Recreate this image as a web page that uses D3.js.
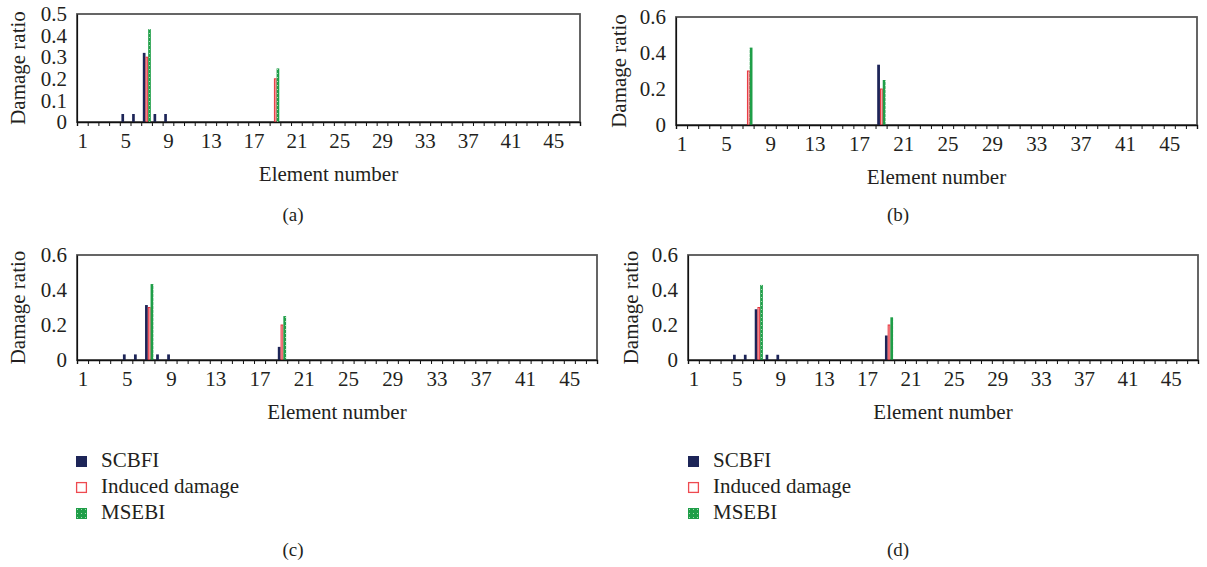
<!DOCTYPE html>
<html>
<head>
<meta charset="utf-8">
<script src="https://cdn.jsdelivr.net/npm/d3@7"></script>
<style>
  html, body { margin: 0; padding: 0; background: #ffffff; }
  svg { display: block; }
  text { font-family: "Liberation Serif", "DejaVu Serif", serif; fill: #231f20; }
</style>
</head>
<body>
<svg id="chart" width="1207" height="567"></svg>
<script>
// ---------------- DATA ----------------
const elements = [1,2,3,4,5,6,7,8,9,10,11,12,13,14,15,16,17,18,19,20,21,22,23,24,25,26,27,28,29,30,31,32,33,34,35,36,37,38,39,40,41,42,43,44,45,46,47];
const xTickLabels = [1,5,9,13,17,21,25,29,33,37,41,45];
const seriesNames = ["SCBFI", "Induced damage", "MSEBI"];
const yTicksA = [0, 0.1, 0.2, 0.3, 0.4, 0.5];
const yTicksBCD = [0, 0.2, 0.4, 0.6];
const panelLabels = ["(a)", "(b)", "(c)", "(d)"];
const xTitle = "Element number";
const yTitle = "Damage ratio";

// panel (a)
const scbfiA = [0,0,0,0,0.037,0.037,0.32,0.037,0.037,0,
                0,0,0,0,0,0,0,0,0,0,
                0,0,0,0,0,0,0,0,0,0,
                0,0,0,0,0,0,0,0,0,0,
                0,0,0,0,0,0,0];
const inducedA = [0,0,0,0,0,0,0.30,0,0,0,
                  0,0,0,0,0,0,0,0,0.20,0,
                  0,0,0,0,0,0,0,0,0,0,
                  0,0,0,0,0,0,0,0,0,0,
                  0,0,0,0,0,0,0];
const msebiA = [0,0,0,0,0,0,0.43,0,0,0,
                0,0,0,0,0,0,0,0,0.248,0,
                0,0,0,0,0,0,0,0,0,0,
                0,0,0,0,0,0,0,0,0,0,
                0,0,0,0,0,0,0];
// panel (b)
const scbfiB = [0,0,0,0,0,0,0,0,0,0,
                0,0,0,0,0,0,0,0,0.335,0,
                0,0,0,0,0,0,0,0,0,0,
                0,0,0,0,0,0,0,0,0,0,
                0,0,0,0,0,0,0];
const inducedB = [0,0,0,0,0,0,0.30,0,0,0,
                  0,0,0,0,0,0,0,0,0.20,0,
                  0,0,0,0,0,0,0,0,0,0,
                  0,0,0,0,0,0,0,0,0,0,
                  0,0,0,0,0,0,0];
const msebiB = [0,0,0,0,0,0,0.43,0,0,0,
                0,0,0,0,0,0,0,0,0.25,0,
                0,0,0,0,0,0,0,0,0,0,
                0,0,0,0,0,0,0,0,0,0,
                0,0,0,0,0,0,0];
// panel (c)
const scbfiC = [0,0,0,0,0.032,0.032,0.314,0.032,0.032,0,
                0,0,0,0,0,0,0,0,0.075,0,
                0,0,0,0,0,0,0,0,0,0,
                0,0,0,0,0,0,0,0,0,0,
                0,0,0,0,0,0,0];
const inducedC = [0,0,0,0,0,0,0.30,0,0,0,
                  0,0,0,0,0,0,0,0,0.20,0,
                  0,0,0,0,0,0,0,0,0,0,
                  0,0,0,0,0,0,0,0,0,0,
                  0,0,0,0,0,0,0];
const msebiC = [0,0,0,0,0,0,0.434,0,0,0,
                0,0,0,0,0,0,0,0,0.251,0,
                0,0,0,0,0,0,0,0,0,0,
                0,0,0,0,0,0,0,0,0,0,
                0,0,0,0,0,0,0];
// panel (d)
const scbfiD = [0,0,0,0,0.03,0.03,0.29,0.03,0.03,0,
                0,0,0,0,0,0,0,0,0.14,0,
                0,0,0,0,0,0,0,0,0,0,
                0,0,0,0,0,0,0,0,0,0,
                0,0,0,0,0,0,0];
const inducedD = [0,0,0,0,0,0,0.30,0,0,0,
                  0,0,0,0,0,0,0,0,0.20,0,
                  0,0,0,0,0,0,0,0,0,0,
                  0,0,0,0,0,0,0,0,0,0,
                  0,0,0,0,0,0,0];
const msebiD = [0,0,0,0,0,0,0.429,0,0,0,
                0,0,0,0,0,0,0,0,0.244,0,
                0,0,0,0,0,0,0,0,0,0,
                0,0,0,0,0,0,0,0,0,0,
                0,0,0,0,0,0,0];

// ---------------- LAYOUT / STYLE ----------------
const svg = d3.select("#chart");
const colors = { navy: "#1d2558", red: "#e8323c", green: "#1f9e48" };
const FONT = '"Liberation Serif", "DejaVu Serif", serif';

const defs = svg.append("defs");
const pat = defs.append("pattern").attr("id", "dots").attr("patternUnits", "userSpaceOnUse")
  .attr("width", 4).attr("height", 4);
pat.append("rect").attr("width", 4).attr("height", 4).attr("fill", colors.green);
pat.append("rect").attr("x", 1).attr("y", 1).attr("width", 1).attr("height", 1).attr("fill", "#a8dcb6");

const panels = [
  { label: panelLabels[0], left: 77, right: 580, top: 14, bottom: 122, ymax: 0.5, yTicks: yTicksA,
    series: [scbfiA, inducedA, msebiA], ytX: 18, labelX: 293, labelY: 221, legend: null },
  { label: panelLabels[1], left: 676, right: 1197, top: 17, bottom: 125, ymax: 0.6, yTicks: yTicksBCD,
    series: [scbfiB, inducedB, msebiB], ytX: 619, labelX: 898, labelY: 221, legend: null },
  { label: panelLabels[2], left: 77, right: 597, top: 255, bottom: 360, ymax: 0.6, yTicks: yTicksBCD,
    series: [scbfiC, inducedC, msebiC], ytX: 18, labelX: 293, labelY: 556, legend: { x: 76, y: 456 } },
  { label: panelLabels[3], left: 688, right: 1198, top: 255, bottom: 360, ymax: 0.6, yTicks: yTicksBCD,
    series: [scbfiD, inducedD, msebiD], ytX: 631, labelX: 898, labelY: 556, legend: { x: 688, y: 456 } }
];

function styleBar(sel, si) {
  if (si === 0) sel.attr("fill", colors.navy);
  else if (si === 1) sel.attr("fill", "#fbd0d0").attr("stroke", colors.red).attr("stroke-width", 1);
  else sel.attr("fill", "url(#dots)");
}

panels.forEach(p => {
  const g = svg.append("g");
  const x = d3.scaleBand().domain(elements).range([p.left, p.right]).paddingInner(0).paddingOuter(0);
  const xs = d3.scaleBand().domain(d3.range(seriesNames.length))
    .range([x.bandwidth() * 0.15, x.bandwidth() * 0.9]).paddingInner(0);
  const xBound = d3.scaleLinear().domain([0.5, elements.length + 0.5]).range([p.left, p.right]);
  const y = d3.scaleLinear().domain([0, p.ymax]).range([p.bottom, p.top]);

  // plot frame
  g.append("rect").attr("x", p.left).attr("y", p.top)
    .attr("width", p.right - p.left).attr("height", p.bottom - p.top)
    .attr("fill", "none").attr("stroke", "#555555").attr("stroke-width", 1.8);

  // bars
  p.series.forEach((vals, si) => {
    const data = elements.map((e, i) => ({ e, v: vals[i] })).filter(d => d.v > 0);
    const sel = g.append("g").selectAll("rect").data(data).join("rect")
      .attr("x", d => x(d.e) + xs(si) + (si === 1 ? 0.5 : 0))
      .attr("width", xs.bandwidth() - (si === 1 ? 1 : 0))
      .attr("y", d => y(d.v))
      .attr("height", d => y(0) - y(d.v));
    styleBar(sel, si);
  });

  // y axis
  const yAxis = g.append("g").attr("transform", `translate(${p.left},0)`)
    .call(d3.axisLeft(y).tickValues(p.yTicks).tickSize(0).tickPadding(10)
      .tickFormat(d => d === 0 ? "0" : d3.format(".1f")(d)));
  yAxis.select(".domain").attr("stroke", "#111").attr("stroke-width", 1.2);
  yAxis.selectAll("text").attr("font-size", 21).attr("font-family", FONT).attr("fill", "#231f20");

  // x axis ticks at category boundaries
  const xAxisTicks = g.append("g").attr("transform", `translate(0,${p.bottom})`)
    .call(d3.axisBottom(xBound).tickValues(d3.range(0.5, elements.length + 1, 1)).tickSize(4).tickFormat(""));
  xAxisTicks.select(".domain").attr("stroke", "#111").attr("stroke-width", 1.4);
  xAxisTicks.selectAll(".tick line").attr("stroke", "#111").attr("stroke-width", 1);

  // x tick labels
  const xAxisLabels = g.append("g").attr("transform", `translate(0,${p.bottom})`)
    .call(d3.axisBottom(xBound).tickValues(xTickLabels).tickSize(0).tickPadding(11));
  xAxisLabels.select(".domain").remove();
  xAxisLabels.selectAll("text").attr("font-size", 21).attr("font-family", FONT).attr("fill", "#231f20");

  // titles
  g.append("text").attr("x", (p.left + p.right) / 2).attr("y", p.bottom + 59)
    .attr("text-anchor", "middle").attr("font-size", 21).text(xTitle);
  g.append("text").attr("transform", `translate(${p.ytX + 7},${(p.top + p.bottom) / 2}) rotate(-90)`)
    .attr("text-anchor", "middle").attr("font-size", 21).text(yTitle);
  g.append("text").attr("x", p.labelX).attr("y", p.labelY)
    .attr("text-anchor", "middle").attr("font-size", 19).text(p.label);

  // legend
  if (p.legend) {
    const lg = g.append("g").attr("transform", `translate(${p.legend.x},${p.legend.y})`);
    seriesNames.forEach((name, si) => {
      const row = lg.append("g").attr("transform", `translate(0,${si * 26})`);
      const r = row.append("rect").attr("x", si === 1 ? 0.6 : 0).attr("y", si === 1 ? 0.6 : 0)
        .attr("width", si === 1 ? 9.8 : 11).attr("height", si === 1 ? 9.8 : 11);
      if (si === 0) r.attr("fill", colors.navy);
      else if (si === 1) r.attr("fill", "#fff").attr("stroke", "#ee4a50").attr("stroke-width", 1.3);
      else r.attr("fill", "url(#dots)");
      row.append("text").attr("x", 25).attr("y", 11).attr("font-size", 21).text(name);
    });
  }
});
</script>
</body>
</html>
